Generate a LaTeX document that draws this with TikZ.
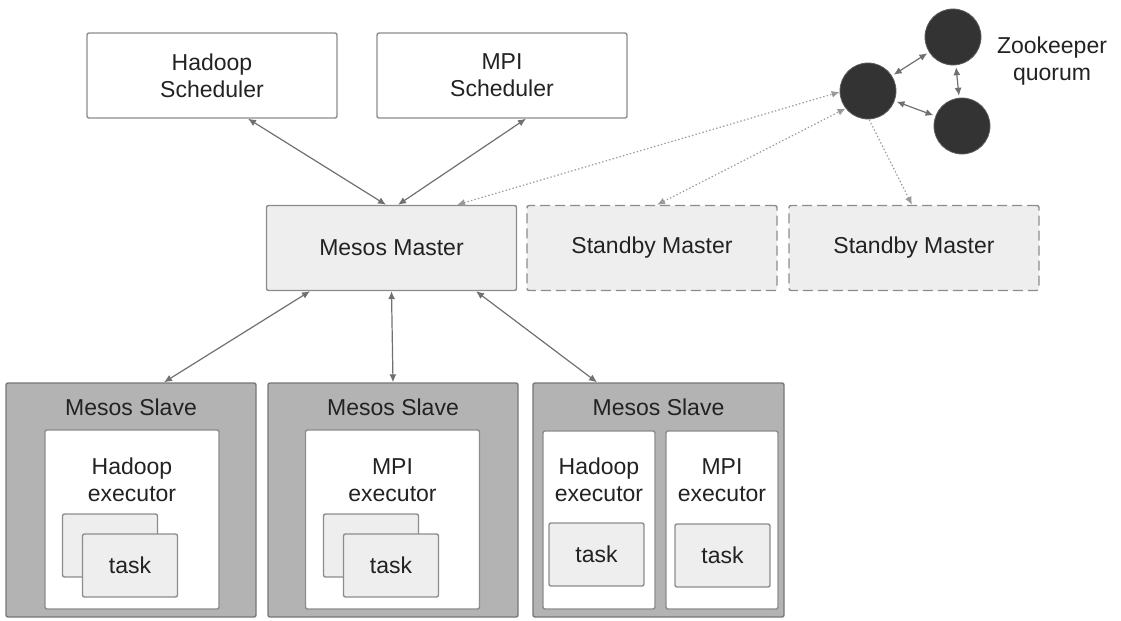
\documentclass[tikz,border=0pt]{standalone}
\usepackage{fontspec}
\setmainfont{Liberation Sans}
\usetikzlibrary{arrows.meta,calc}

\definecolor{linegray}{HTML}{8C8C8C}
\definecolor{arrowgray}{HTML}{707070}
\definecolor{dotgray}{HTML}{9A9A9A}
\definecolor{masterfill}{HTML}{EEEEEE}
\definecolor{slavefill}{HTML}{B3B3B3}
\definecolor{zkfill}{HTML}{333333}
\definecolor{textdark}{HTML}{222222}

\begin{document}
\begin{tikzpicture}[x=0.5pt,y=-0.5pt,
    font=\fontsize{11.5}{13.5}\selectfont, text=textdark,
    box/.style={draw=linegray, line width=0.7pt, rounded corners=1pt, align=center,
      minimum width=125pt, minimum height=42.5pt},
    master/.style={box, fill=masterfill},
    standby/.style={master, dash pattern=on 5pt off 2.5pt},
    slave/.style={draw=linegray!85!black, line width=0.7pt, rounded corners=1pt,
      fill=slavefill, minimum width=125pt, minimum height=117pt},
    exe/.style={draw=linegray, line width=0.7pt, rounded corners=1pt, fill=white,
      minimum width=87pt, minimum height=89.5pt},
    task/.style={draw=linegray, line width=0.7pt, rounded corners=1pt, fill=masterfill,
      minimum width=47.5pt, minimum height=31.5pt},
    zk/.style={circle, fill=zkfill, draw=zkfill!80!white, minimum size=28pt, inner sep=0pt},
    lbl/.style={align=center, inner sep=0pt},
    link/.style={{Latex[length=4pt,width=3.5pt]}-{Latex[length=4pt,width=3.5pt]},
      draw=arrowgray, line width=0.6pt},
    zklink/.style={link, draw=dotgray, dash pattern=on 0.7pt off 1.1pt}]
    \useasboundingbox (0,0) rectangle (1121,621);

    % schedulers
    \node[box] (hs) at (212,75.5) {Hadoop\\Scheduler};
    \node[box] (ms) at (502,75.5) {MPI\\Scheduler};

    % masters
    \node[master] (mm) at (391.5,248) {Mesos Master};
    \node[standby] (sb1) at (652,248) {Standby Master};
    \node[standby] (sb2) at (914,248) {Standby Master};

    % zookeeper quorum
    \node[zk] (c1) at (868,91) {};
    \node[zk] (c2) at (953,37) {};
    \node[zk] (c3) at (962,126) {};
    \node[lbl] (zkq) at (1052,61) {Zookeeper\\quorum};

    % slaves
    \node[slave] (s1) at (131,500) {};
    \node[slave] (s2) at (393,500) {};
    \node[slave, minimum width=125.5pt] (s3) at (658.5,500) {};
    \node[lbl] (s1t) at (131,407) {Mesos Slave};
    \node[lbl] (s2t) at (393,407) {Mesos Slave};
    \node[lbl] (s3t) at (658.5,407) {Mesos Slave};

    % executors
    \node[exe] (e1) at (132,519.5) {};
    \node[exe] (e2) at (392.5,519.5) {};
    \node[exe, minimum width=56pt, minimum height=89pt] (e3a) at (599,520) {};
    \node[exe, minimum width=56pt, minimum height=89pt] (e3b) at (722,520) {};
    \node[lbl] (e1t) at (132,480) {Hadoop\\executor};
    \node[lbl] (e2t) at (392.5,480) {MPI\\executor};
    \node[lbl] (e3at) at (599,480) {Hadoop\\executor};
    \node[lbl] (e3bt) at (722,480) {MPI\\executor};

    % tasks
    \node[task] (t1b) at (110,545.5) {};
    \node[task] (t1) at (130,565.5) {task};
    \node[task] (t2b) at (371,545.5) {};
    \node[task] (t2) at (391,565.5) {task};
    \node[task] (t3a) at (596.5,554.5) {task};
    \node[task] (t3b) at (722.5,555.5) {task};

    % connections
    \draw[link] ($(hs.south)+(36,0)$) -- ($(mm.north)+(-5.5,0)$);
    \draw[link] ($(ms.south)+(24,0)$) -- ($(mm.north)+(6.5,0)$);
    \draw[zklink] ($(mm.north)+(65.5,0)$) -- (c1.182);
    \draw[zklink] ($(sb1.north)+(5,0)$) -- (c1.218);
    \draw[zklink, {Latex[length=4pt,width=3.5pt]}-] ($(sb2.north)+(-2,0)$) -- (c1.272);
    \draw[link, shorten <=1pt, shorten >=1pt] (c1) -- (c2);
    \draw[link, shorten <=1pt, shorten >=1pt] (c2) -- (c3);
    \draw[link, shorten <=1pt, shorten >=1pt] (c1) -- (c3);
    \draw[link] ($(mm.south)+(-81.5,0)$) -- ($(s1.north)+(33,0)$);
    \draw[link] ($(mm.south)+(0,0)$) -- ($(s2.north)+(0,0)$);
    \draw[link] ($(mm.south)+(84.5,0)$) -- ($(s3.north)+(-61.5,0)$);
\end{tikzpicture}
\end{document}
